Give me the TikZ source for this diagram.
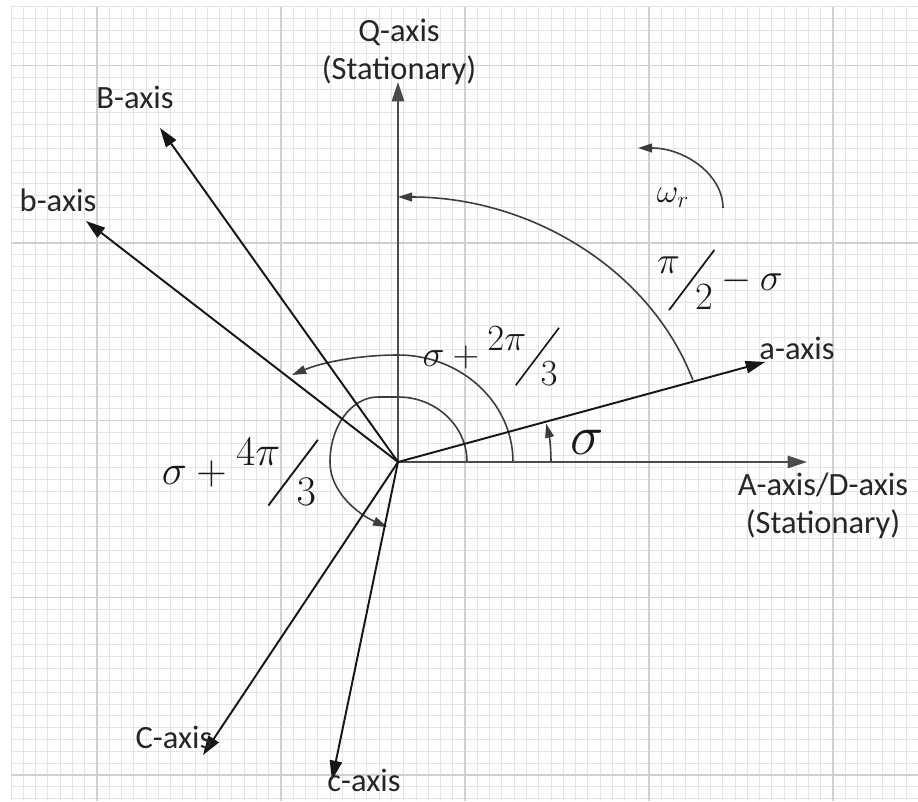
\documentclass[tikz,border=0pt]{standalone}
\usepackage{fix-cm}
\usepackage[no-math]{fontspec}
\setmainfont{Carlito}
\usepackage{graphicx}
\usepackage{xcolor}
\definecolor{gridminor}{HTML}{E4E4E4}
\definecolor{gridmajor}{HTML}{D0D0D0}
\definecolor{statline}{HTML}{4A4A4A}
\definecolor{rotline}{HTML}{161616}
\definecolor{arcline}{HTML}{3C3C3C}
\usetikzlibrary{arrows.meta}
\newcommand{\slfrac}[2]{\raisebox{0.45em}{$#1$}\kern-0.3em\raisebox{-0.52em}{\rotatebox{53}{\rule{1.95em}{0.045em}}}\kern-0.52em\raisebox{-0.5em}{$#2$}}

\begin{document}
\begin{tikzpicture}[x=0.02cm, y=0.02cm,
  minorgrid/.style={draw=gridminor, line width=0.55pt},
  majorgrid/.style={draw=gridmajor, line width=0.7pt},
  statax/.style={draw=statline, line width=1.1pt, -{Triangle[length=11pt,width=7pt]}},
  rotax/.style={draw=rotline, line width=1.1pt, -{Triangle[length=11pt,width=7pt]}},
  anglearc/.style={draw=arcline, line width=0.9pt, -{Triangle[length=8pt,width=5pt]}},
  axlabel/.style={font=\fontsize{18.5}{22}\selectfont, text=black!85, align=center, inner sep=0pt},
  anglelabel/.style={text=black!90, inner sep=0pt}]
  \useasboundingbox (-398,-339) rectangle (520,462);
  \fill[white] (-398,-339) rectangle (520,462);
  \foreach \k in {-7,...,66}
    \draw[minorgrid] ({-301+12.27*\k},-339) -- ({-301+12.27*\k},455.4);
  \foreach \k in {-20,...,47}
    \draw[minorgrid] (-387,{219-11.82*\k}) -- (520,{219-11.82*\k});
  \foreach \m in {0,...,4}
    \draw[majorgrid] ({-301+184*\m},-339) -- ({-301+184*\m},455.4);
  \foreach \m in {-1,...,3}
    \draw[majorgrid] (-387,{219-177.3*\m}) -- (520,{219-177.3*\m});

  \coordinate (o) at (0,0);
  \coordinate (qtip) at (0,380);
  \coordinate (dtip) at (409,0);
  \coordinate (atip) at (367,100);
  \coordinate (Btip) at (-238,334);
  \coordinate (btip) at (-312,241);
  \coordinate (Ctip) at (-195,-293);
  \coordinate (ctip) at (-66,-318);

  \draw[anglearc] (18:310 and 265) arc[start angle=18, end angle=90, x radius=310, y radius=265];
  \draw[anglearc] (115,0) arc[start angle=0, end angle=90, x radius=115, y radius=107]
    arc[start angle=90, end angle=125.6, x radius=182, y radius=107];
  \draw[anglearc] (69,0) arc[start angle=0, end angle=90, x radius=69, y radius=65] -- (-20,65)
    arc[start angle=90, end angle=180, x radius=48, y radius=65]
    .. controls (-68,-30) and (-40,-52) .. (-11,-65);
  \draw[anglearc] (153,0) arc[start angle=0, end angle=14.5, radius=153];
  \draw[anglearc] (325,254) arc[start angle=0, end angle=90, x radius=85, y radius=60];

  \draw[statax] (o) -- (qtip);
  \draw[statax] (o) -- (dtip);
  \draw[rotax] (o) -- (atip);
  \draw[rotax] (o) -- (Btip);
  \draw[rotax] (o) -- (btip);
  \draw[rotax] (o) -- (Ctip);
  \draw[rotax] (o) -- (ctip);

  \node[axlabel] (qlabel) at (1,410) {Q-axis\\(Stationary)};
  \node[axlabel] (Blabel) at (-263,365) {B-axis};
  \node[axlabel] (blabel) at (-340,262) {b-axis};
  \node[axlabel] (alabel) at (399,114) {a-axis};
  \node[axlabel] (dlabel) at (425,-44) {A-axis/D-axis\\(Stationary)};
  \node[axlabel] (Clabel) at (-224,-275) {C-axis};
  \node[axlabel] (clabel) at (-34,-318) {c-axis};

  \node[anglelabel, font=\fontsize{22}{26}\selectfont] (halfpi) at (322,182) {\slfrac{\pi}{2}${}-\sigma$};
  \node[anglelabel, font=\fontsize{21}{25}\selectfont] (twothird) at (92,106) {$\sigma+{}$\slfrac{2\pi}{3}};
  \node[anglelabel, font=\fontsize{24}{28}\selectfont] (fourthird) at (-159,-10) {$\sigma+{}$\slfrac{4\pi}{3}};
  \node[anglelabel, font=\fontsize{32}{36}\selectfont] (sig) at (189,20) {$\sigma$};
  \node[anglelabel, font=\fontsize{19}{22}\selectfont] (omega) at (275,264) {$\omega_r$};
\end{tikzpicture}
\end{document}
